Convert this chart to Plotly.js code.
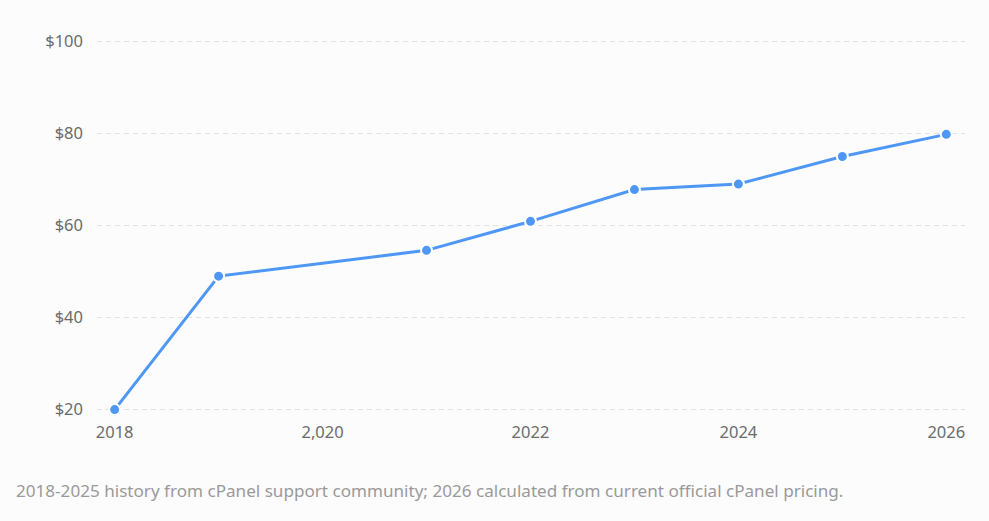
<!DOCTYPE html>
<html>
<head>
<meta charset="utf-8">
<script src="https://cdn.plot.ly/plotly-3.0.1.min.js"></script>
<style>html,body{margin:0;padding:0;background:#fcfcfc;}#chart{width:989px;height:521px;}</style>
</head>
<body>
<div id="chart"></div>
<script>
const years = [2018, 2019, 2021, 2022, 2023, 2024, 2025, 2026];
const prices = [20, 49, 54.6, 60.9, 67.8, 69, 75, 79.8];
const xTickVals = [2018, 2020, 2022, 2024, 2026];
const xTickText = ["2018", "2,020", "2022", "2024", "2026"];
const yTickVals = [20, 40, 60, 80, 100];
const yTickText = ["$20", "$40", "$60", "$80", "$100"];
const footnote = "2018-2025 history from cPanel support community; 2026 calculated from current official cPanel pricing.";

const trace = {
  x: years, y: prices, type: 'scatter', mode: 'lines+markers',
  line: {color: '#4f97f5', width: 3},
  marker: {color: '#4f97f5', size: 11, line: {color: '#ffffff', width: 2}},
  cliponaxis: false, hoverinfo: 'skip'
};
const layout = {
  width: 989, height: 521,
  paper_bgcolor: '#fcfcfc', plot_bgcolor: '#fcfcfc',
  margin: {l: 97, r: 24, t: 40, b: 110},
  showlegend: false,
  font: {family: 'Noto Sans, sans-serif', size: 16.5, color: '#6b6b6b'},
  xaxis: {range: [2017.83, 2026.18], tickvals: xTickVals, ticktext: xTickText,
    showgrid: false, zeroline: false, showline: false, ticks: '', ticklen: 0,
    ticklabelstandoff: 9,
    tickfont: {size: 16.5, color: '#6b6b6b'}},
  yaxis: {range: [19.7, 100.3], tickvals: yTickVals, ticktext: yTickText,
    showgrid: true, gridcolor: '#e2e2e2', griddash: '5px,4px', gridwidth: 1.6,
    zeroline: false, showline: false, ticks: '', ticklabelstandoff: 13,
    tickfont: {size: 16.5, color: '#6b6b6b'}},
  annotations: [{
    text: footnote, xref: 'paper', yref: 'paper', x: -0.096, y: -0.215,
    xanchor: 'left', yanchor: 'middle', showarrow: false,
    font: {size: 17.1, color: '#9a9a9a'}
  }]
};
Plotly.newPlot('chart', [trace], layout, {displayModeBar: false, staticPlot: true});
</script>
</body>
</html>
